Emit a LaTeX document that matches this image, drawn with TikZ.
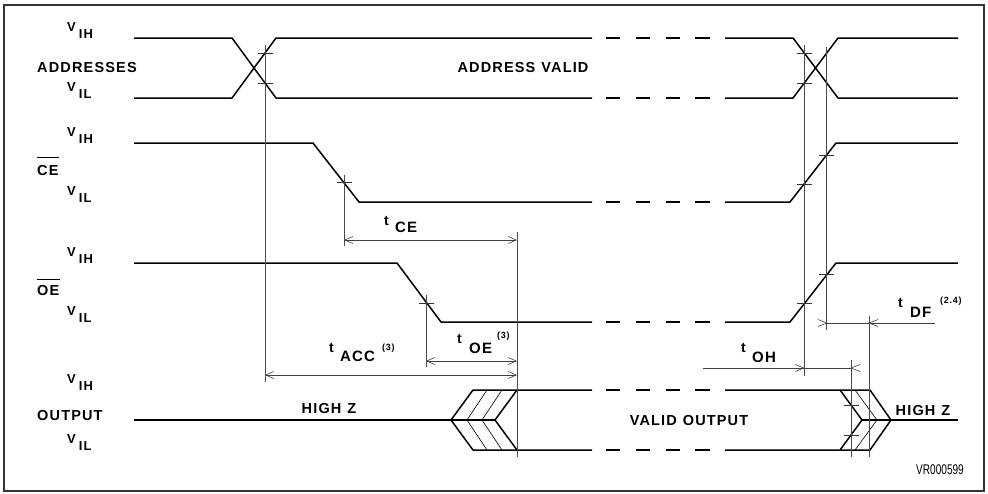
\documentclass[tikz,border=0pt]{standalone}
\usepackage{fontspec}
\setmainfont{Liberation Sans}
\newfontfamily\lblfont{Liberation Sans}[LetterSpace=8]
\newfontfamily\codefont{Liberation Sans}
\usetikzlibrary{arrows.meta}
\begin{document}
\begin{tikzpicture}[x=1pt,y=-1pt,
  frame/.style={line width=1.4pt, black!80},
  wave/.style={line width=1.5pt, line join=round},
  thinwave/.style={line width=0.6pt, line join=round},
  dashseg/.style={line width=1.3pt},
  vline/.style={line width=0.6pt, black!70},
  tickmark/.style={line width=0.6pt, black!80},
  dim/.style={line width=0.6pt, black!75},
  dimarrows/.style={dim, {Straight Barb[length=8pt,width=7pt]}-{Straight Barb[length=8pt,width=7pt]}},
  arrR/.pic={\draw[dim] (-9,-3.5) -- (0,0) -- (-9,3.5);},
  arrL/.pic={\draw[dim] (9,-3.5) -- (0,0) -- (9,3.5);},
  lbl/.style={inner sep=0pt, font=\lblfont\bfseries\fontsize{14.5}{16}\selectfont},
  vlbl/.style={inner sep=0pt, anchor=base west, font=\lblfont\bfseries\fontsize{13}{15}\selectfont},
  tlbl/.style={inner sep=0pt, anchor=base west, font=\lblfont\bfseries\fontsize{14}{16}\selectfont},
  slbl/.style={inner sep=0pt, anchor=base west, font=\lblfont\bfseries\fontsize{15}{17}\selectfont},
  nlbl/.style={inner sep=0pt, anchor=base west, font=\lblfont\bfseries\fontsize{9}{10}\selectfont}
]
\useasboundingbox (0,0) rectangle (988,493);
\draw[frame] (4,5) rectangle (984,491);

% ---- signal labels
\foreach \n/\y/\s in {a1/38/IH, a2/98/IL, c1/143/IH, c2/202/IL, o1/263/IH, o2/322/IL, q1/390/IH, q2/450/IL}
  \node[vlbl] (v\n) at (67,\y-7) {V\hspace{3pt}\raisebox{-7pt}{\s}};
\node[lbl, anchor=base west] (addr) at (37,72) {ADDRESSES};
\node[lbl, anchor=base west] (ce) at (37,175) {CE};
\draw[line width=0.8pt] ([yshift=7pt]ce.north west) -- ([yshift=7pt]ce.north east);
\node[lbl, anchor=base west] (oe) at (37,295) {OE};
\draw[line width=0.8pt] ([yshift=5pt]oe.north west) -- ([yshift=5pt]oe.north east);
\node[lbl, anchor=base west] (outp) at (37,420) {OUTPUT};

% ---- addresses
\draw[wave] (134,38) -- (232,38) -- (276,98) -- (592,98);
\draw[wave] (134,98) -- (232,98) -- (276,38) -- (592,38);
\draw[wave] (725,38) -- (793,38) -- (838,98) -- (958,98);
\draw[wave] (725,98) -- (793,98) -- (838,38) -- (958,38);
% ---- CE
\draw[wave] (134,143) -- (313,143) -- (359,202) -- (592,202);
\draw[wave] (725,202) -- (790,202) -- (836,143) -- (958,143);
% ---- OE
\draw[wave] (134,263) -- (397,263) -- (441,322) -- (592,322);
\draw[wave] (725,322) -- (790,322) -- (836,263) -- (958,263);
% ---- output
\draw[wave] (134,420) -- (495,420);
\draw[wave] (592,390) -- (473,390) -- (451,420) -- (473,450) -- (592,450);
\draw[wave] (517,390) -- (495,420) -- (517,450);
\draw[thinwave] (487,390) -- (467,420) -- (487,450);
\draw[thinwave] (502,390) -- (482,420) -- (502,450);
\draw[wave] (725,390) -- (870,390) -- (891,420) -- (870,450) -- (725,450);
\draw[wave] (840,390) -- (862,420) -- (840,450);
\draw[thinwave] (855,390) -- (877,420) -- (855,450);
\draw[wave] (862,420) -- (958,420);
% ---- break dashes
\foreach \y in {38,98,202,322,390,450}
  \draw[dashseg] (606,\y) -- (620,\y) (636,\y) -- (650,\y) (666,\y) -- (680,\y) (695,\y) -- (710,\y);

% ---- reference verticals
\draw[vline] (265,45) -- (265,382);
\draw[vline] (344,175) -- (344,246);
\draw[vline] (517,232) -- (517,457);
\draw[vline] (426,295) -- (426,367);
\draw[vline] (804,45) -- (804,376);
\draw[vline] (826,47) -- (826,330);
\draw[vline] (851,360) -- (851,457);
\draw[vline] (869,316) -- (869,457);
% ---- ticks
\foreach \x/\y in {265/53, 265/83, 344/182, 426/303, 804/53, 804/83, 804/184, 804/303, 826/155, 826/274, 851/405, 851/435}
  \draw[tickmark] (\x-7,\y) -- (\x+8,\y);

% ---- dimension lines
\draw[dimarrows] (344,240) -- (517,240);
\draw[dimarrows] (426,361) -- (517,361);
\draw[dimarrows] (265,375) -- (517,375);
\draw[dim] (703,368) -- (851,368);
\pic at (804,368) {arrR};
\pic at (851,368) {arrL};
\draw[dim] (827,323) -- (935,323);
\pic at (827,323) {arrR};
\pic at (869,323) {arrL};

% ---- timing labels
\node[tlbl] (tce) at (384,225) {t};
\node[slbl] (tces) at (395,232) {CE};
\node[tlbl] (toe) at (457,343) {t};
\node[slbl] (toes) at (469,353) {OE};
\node[nlbl] (toen) at (497,338) {(3)};
\node[tlbl] (tacc) at (329,352) {t};
\node[slbl] (taccs) at (340,361) {ACC};
\node[nlbl] (taccn) at (382,350) {(3)};
\node[tlbl] (toh) at (741,352) {t};
\node[slbl] (tohs) at (752,362) {OH};
\node[tlbl] (tdf) at (898,307) {t};
\node[slbl] (tdfs) at (910,317) {DF};
\node[nlbl] (tdfn) at (940,303) {(2.4)};

% ---- state labels
\node[lbl, anchor=base] (av) at (523,72) {ADDRESS\hspace{6pt}VALID};
\node[lbl, anchor=base] (hz1) at (329,413) {HIGH\hspace{6pt}Z};
\node[lbl, anchor=base] (vo) at (689,425) {VALID\hspace{6pt}OUTPUT};
\node[lbl, anchor=base] (hz2) at (923,415) {HIGH\hspace{6pt}Z};
\node[inner sep=0pt, anchor=base, font=\codefont\fontsize{14}{16}\selectfont] (code) at (940,474) {\scalebox{0.72}[1]{VR000599}};
\end{tikzpicture}
\end{document}
